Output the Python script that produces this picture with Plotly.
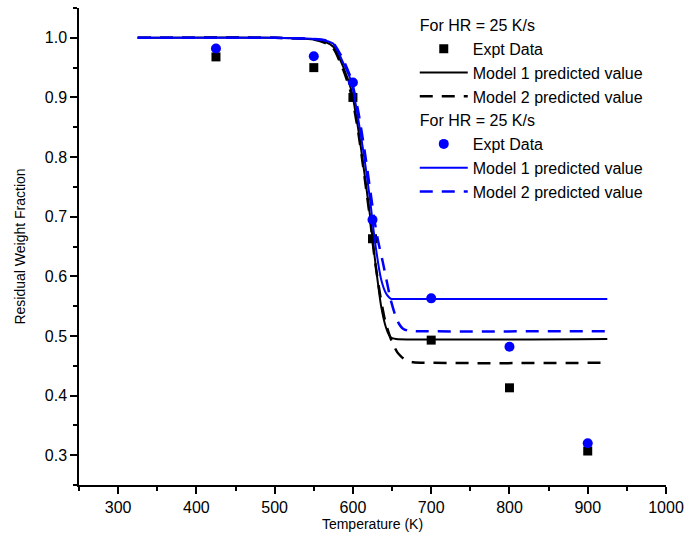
import plotly.graph_objects as go

# experimental points (HR = 25 K/s), black squares and blue circles
expt_T = [425, 550, 600, 625, 700, 800, 900]
expt_black = [0.968, 0.950, 0.900, 0.663, 0.493, 0.413, 0.307]
expt_blue = [0.982, 0.969, 0.925, 0.695, 0.563, 0.482, 0.320]

# model curves
m1_T = [325, 500, 550, 565, 575, 588, 598, 607, 615, 622, 628, 636, 642, 646, 649, 655, 925]
m1_black = [1.0, 1.0, 0.997, 0.993, 0.985, 0.950, 0.912, 0.845, 0.770, 0.700, 0.630, 0.550,
            0.515, 0.502, 0.497, 0.495, 0.495]
m1_blue = [1.0, 1.0, 0.998, 0.995, 0.990, 0.957, 0.926, 0.862, 0.795, 0.727, 0.660, 0.595,
           0.572, 0.565, 0.562, 0.562, 0.562]

m2b_T = [325, 500, 550, 565, 575, 588, 598, 607, 615, 622, 628, 635, 641, 647, 652, 657, 662,
         668, 677, 925]
m2_black = [1.0, 1.0, 0.997, 0.991, 0.982, 0.945, 0.905, 0.840, 0.765, 0.695, 0.627, 0.567,
            0.526, 0.500, 0.484, 0.472, 0.465, 0.459, 0.456, 0.455]

m2u_T = [325, 500, 550, 565, 575, 588, 598, 607, 615, 622, 628, 632, 638, 643, 648, 654, 659,
         664, 670, 680, 925]
m2_blue = [1.0, 1.0, 0.998, 0.996, 0.991, 0.962, 0.930, 0.875, 0.810, 0.745, 0.690, 0.660,
           0.625, 0.593, 0.562, 0.535, 0.520, 0.512, 0.509, 0.508, 0.508]

group_title = "For HR = 25 K/s"
BLUE = "#0000ff"
FONT = "Liberation Sans, Arial, sans-serif"

fig = go.Figure()

fig.add_trace(go.Scatter(x=expt_T, y=expt_black, mode="markers", name="Expt Data",
                         marker=dict(symbol="square", size=9, color="black"),
                         legendgroup="g1", legendgrouptitle_text=group_title))
fig.add_trace(go.Scatter(x=m1_T, y=m1_black, mode="lines", name="Model 1 predicted value",
                         line=dict(color="black", width=2, shape="spline", smoothing=0.6),
                         legendgroup="g1"))
fig.add_trace(go.Scatter(x=m2b_T, y=m2_black, mode="lines", name="Model 2 predicted value",
                         line=dict(color="black", width=2.5, dash="13px,9px", shape="spline",
                                   smoothing=0.6),
                         legendgroup="g1"))
fig.add_trace(go.Scatter(x=expt_T, y=expt_blue, mode="markers", name="Expt Data",
                         marker=dict(symbol="circle", size=10, color=BLUE),
                         legendgroup="g2", legendgrouptitle_text=group_title))
fig.add_trace(go.Scatter(x=m1_T, y=m1_blue, mode="lines", name="Model 1 predicted value",
                         line=dict(color=BLUE, width=2, shape="spline", smoothing=0.6),
                         legendgroup="g2"))
fig.add_trace(go.Scatter(x=m2u_T, y=m2_blue, mode="lines", name="Model 2 predicted value",
                         line=dict(color=BLUE, width=2.5, dash="13px,9px", shape="spline",
                                   smoothing=0.6),
                         legendgroup="g2"))

axis_common = dict(showgrid=False, zeroline=False, showline=True, linecolor="black",
                   linewidth=1.5, tickcolor="black", tickwidth=1.5, automargin=False)

fig.update_layout(
    width=688, height=538,
    margin=dict(l=79, r=22, t=8, b=53),
    paper_bgcolor="white", plot_bgcolor="white",
    font=dict(family=FONT, size=16, color="black"),
    showlegend=True,
    legend=dict(x=0.572, y=1.0, xanchor="left", yanchor="top", bgcolor="rgba(0,0,0,0)",
                tracegroupgap=0, itemwidth=48, font=dict(size=16),
                grouptitlefont=dict(size=16)),
    xaxis=dict(range=[250, 1000], dtick=100, tick0=0, ticks="outside", ticklen=7,
               minor=dict(ticks="outside", dtick=50, ticklen=4, tickcolor="black"),
               title=dict(text="Temperature (K)", font=dict(size=14), standoff=0),
               **axis_common),
    yaxis=dict(range=[0.25, 1.05], dtick=0.1, tick0=0, ticks="outside", ticklen=7,
               tickformat=".1f",
               minor=dict(ticks="outside", dtick=0.05, ticklen=4, tickcolor="black"),
               title=dict(text="Residual Weight Fraction", font=dict(size=14), standoff=16),
               **axis_common),
    xaxis2=dict(range=[250, 1000], overlaying="x", side="top", dtick=100, tick0=0,
                ticks="inside", ticklen=6, showticklabels=False,
                minor=dict(ticks="inside", dtick=50, ticklen=4, tickcolor="black"),
                **axis_common),
    yaxis2=dict(range=[0.25, 1.05], overlaying="y", side="right", dtick=0.1, tick0=0,
                ticks="inside", ticklen=6, showticklabels=False,
                minor=dict(ticks="inside", dtick=0.05, ticklen=4, tickcolor="black"),
                **axis_common),
)

# page body has an 8px default margin; drop it so the figure sits at the window corner
fig.write_html("out.html", config={"displayModeBar": False},
               post_script="document.body.style.margin='0';document.body.style.overflow='hidden';")
